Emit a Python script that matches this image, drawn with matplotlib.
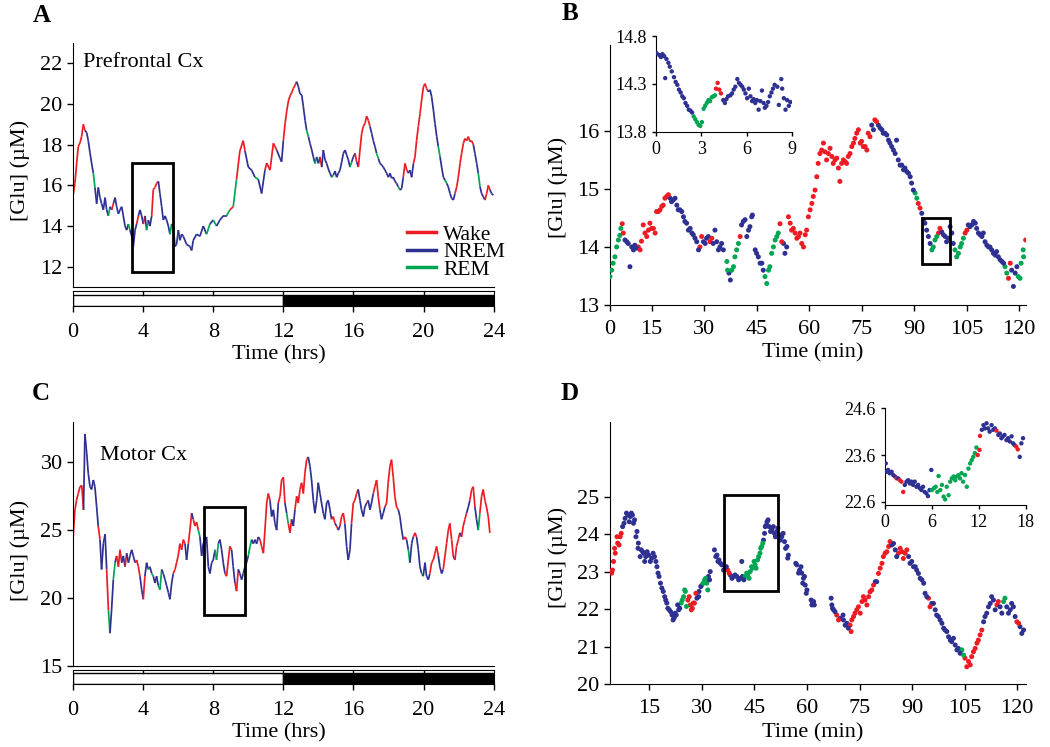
import matplotlib
matplotlib.use('Agg')
import matplotlib.pyplot as plt
from matplotlib.collections import LineCollection
from matplotlib.lines import Line2D
from matplotlib.patches import Rectangle

plt.rcParams['font.family'] = ['Liberation Serif', 'DejaVu Serif']

# ---------------- data ----------------
# sleep state epochs: start time + state (W = wake, N = NREM, R = REM)
a_t = [0.02, 0.11, 0.21, 0.3, 0.4, 0.49, 0.59, 0.68, 0.78, 0.87, 0.97, 1.06, 1.16, 1.25, 1.35, 1.44,
       1.54, 1.63, 1.73, 1.83, 1.92, 2.02, 2.11, 2.21, 2.3, 2.4, 2.49, 2.59, 2.68, 2.78, 2.87, 2.97,
       3.06, 3.16, 3.25, 3.35, 3.44, 3.54, 3.63, 3.73, 3.82, 3.92, 4.01, 4.11, 4.2, 4.3, 4.39, 4.49,
       4.58, 4.68, 4.77, 4.87, 4.96, 5.06, 5.15, 5.25, 5.34, 5.44, 5.53, 5.63, 5.72, 5.82, 5.91, 6.01,
       6.1, 6.2, 6.29, 6.48, 6.67, 6.77, 6.86, 7.05, 7.24, 7.43, 7.62, 7.81, 8.0, 8.19, 8.38, 8.57,
       8.76, 8.95, 9.14, 9.33, 9.52, 9.71, 9.81, 10.0, 10.19, 10.38, 10.57, 10.76, 10.95, 11.05, 11.24,
       11.43, 11.62, 11.81, 11.9, 12.0, 12.1, 12.2, 12.3, 12.4, 12.5, 12.57, 12.67, 12.76, 12.86, 12.95,
       13.05, 13.14, 13.24, 13.33, 13.43, 13.52, 13.62, 13.71, 13.81, 13.9, 14.0, 14.09, 14.19, 14.28,
       14.38, 14.47, 14.57, 14.66, 14.76, 14.85, 14.95, 15.04, 15.14, 15.23, 15.33, 15.42, 15.52, 15.61,
       15.71, 15.8, 15.9, 15.99, 16.09, 16.18, 16.28, 16.37, 16.47, 16.56, 16.66, 16.75, 16.85, 16.94,
       17.04, 17.13, 17.23, 17.32, 17.42, 17.51, 17.61, 17.7, 17.8, 17.89, 17.99, 18.08, 18.18, 18.27,
       18.37, 18.46, 18.56, 18.66, 18.75, 18.84, 18.94, 19.04, 19.13, 19.22, 19.32, 19.42, 19.51, 19.6,
       19.7, 19.8, 19.89, 19.99, 20.08, 20.17, 20.27, 20.37, 20.46, 20.56, 20.65, 20.75, 20.84, 20.94,
       21.03, 21.13, 21.22, 21.32, 21.41, 21.51, 21.6, 21.7, 21.79, 21.89, 21.98, 22.08, 22.17, 22.27,
       22.36, 22.46, 22.55, 22.65, 22.74, 22.84, 22.93, 23.03, 23.12, 23.22, 23.31, 23.41, 23.5, 23.6,
       23.69, 23.79, 23.88, 23.98]
a_glu = [15.6, 16.1, 17.1, 17.9, 18.1, 18.4, 19.0, 18.7, 18.6, 18.2, 17.6, 17.1, 16.6, 15.9, 15.1, 15.9,
         15.4, 15.1, 14.8, 15.4, 14.8, 14.5, 14.95, 14.8, 15.1, 15.4, 14.95, 14.6, 14.8, 14.95, 14.5, 14.0,
         13.8, 14.1, 13.8, 13.5, 13.0, 13.8, 14.1, 14.5, 14.8, 14.5, 14.1, 14.5, 13.8, 14.3, 14.0, 14.5,
         15.8, 15.9, 16.1, 16.2, 15.6, 14.95, 14.3, 14.5, 14.3, 14.0, 13.6, 14.1, 14.0, 13.0, 13.1, 13.8,
         13.3, 13.6, 13.5, 13.1, 13.0, 12.8, 13.3, 13.6, 13.5, 14.0, 13.6, 14.1, 14.3, 14.0, 14.3, 14.5,
         14.5, 14.8, 14.95, 16.3, 17.7, 18.2, 17.7, 16.9, 16.75, 16.4, 16.3, 15.6, 16.75, 17.1, 16.75,
         18.07, 17.74, 17.33, 17.16, 18.2, 19.05, 19.7, 20.2, 20.44, 20.6, 20.77, 20.93, 21.1, 20.85, 20.5,
         20.44, 19.87, 19.2, 18.7, 18.4, 18.07, 17.74, 17.4, 17.08, 17.4, 17.08, 17.4, 16.9, 17.74,
         17.25, 17.08, 16.8, 16.6, 16.4, 16.5, 16.7, 16.4, 16.6, 16.75, 17.16, 17.57, 17.74, 17.5,
         17.25, 16.9, 17.16, 17.4, 17.57, 17.16, 16.9, 17.74, 18.56, 18.9, 19.05, 19.4, 19.2, 18.9,
         18.56, 18.2, 17.9, 17.57, 17.33, 17.08, 17.0, 16.9, 16.75, 16.6, 16.4, 16.6, 16.35, 16.4,
         16.2, 16.1, 15.93, 15.77, 15.85, 16.4, 17.08, 16.75, 16.6, 16.75, 16.4, 17.08, 17.4, 18.2,
         18.9, 19.54, 20.2, 20.85, 21.0, 20.77, 20.6, 20.7, 20.36, 19.7, 19.05, 18.4, 17.9, 17.4,
         16.9, 16.4, 16.26, 16.1, 15.93, 15.6, 15.36, 15.28, 15.6, 15.93, 16.4, 17.08, 17.57, 18.07,
         18.3, 18.2, 18.4, 18.15, 18.2, 18.0, 17.57, 17.08, 16.6, 15.93, 15.6, 15.44, 15.28, 15.6,
         16.0, 15.77, 15.6, 15.52]
a_ep_t = [0, 0.68, 1.16, 1.25, 2.02, 2.11, 2.21, 2.3, 3.16, 3.25, 3.63, 3.73, 4.01, 4.11, 4.2, 4.3,
          4.49, 4.87, 5.53, 5.63, 7.62, 7.81, 8.0, 8.19, 8.76, 8.95, 9.14, 9.33, 9.81, 10.38, 10.57,
          10.95, 11.62, 12.0, 12.76, 13.33, 13.43, 13.81, 13.9, 14.09, 14.19, 14.76, 14.85, 15.8, 15.9,
          16.09, 16.18, 16.28, 16.94, 17.32, 17.42, 18.56, 18.66, 18.84, 19.13, 19.42, 20.27, 20.84,
          20.94, 21.22, 21.32, 21.79, 22.84, 23.12, 23.22, 23.5, 23.79]
a_ep_s = "WNRNRNWNRNWNWNRNWNRNRNRNRWRWNRNWNWNRNRNWNRNRNWNWNRNRNWNWNRNRNWNRNWN"

c_t = [0.0, 0.11, 0.2, 0.3, 0.4, 0.5, 0.6, 0.68, 0.78, 0.87, 0.97, 1.06, 1.16, 1.25, 1.35, 1.44,
       1.54, 1.63, 1.73, 1.83, 1.92, 2.02, 2.11, 2.2, 2.3, 2.4, 2.49, 2.59, 2.68, 2.78, 2.87, 2.97,
       3.06, 3.16, 3.25, 3.35, 3.44, 3.54, 3.63, 3.73, 3.82, 3.92, 4.01, 4.1, 4.2, 4.3, 4.39, 4.49,
       4.58, 4.68, 4.77, 4.87, 4.96, 5.06, 5.15, 5.25, 5.34, 5.44, 5.53, 5.63, 5.72, 5.82, 5.91, 6.0,
       6.1, 6.2, 6.29, 6.39, 6.48, 6.58, 6.67, 6.77, 6.86, 6.96, 7.05, 7.15, 7.24, 7.34, 7.43, 7.53,
       7.62, 7.72, 7.81, 7.91, 8.0, 8.1, 8.19, 8.29, 8.38, 8.48, 8.57, 8.67, 8.76, 8.86, 8.95, 9.05,
       9.14, 9.24, 9.33, 9.43, 9.52, 9.62, 9.71, 9.81, 9.9, 10.0, 10.1, 10.19, 10.29, 10.38, 10.48,
       10.57, 10.67, 10.76, 10.86, 10.95, 11.05, 11.14, 11.24, 11.33, 11.43, 11.52, 11.62, 11.71,
       11.81, 11.9, 12.0, 12.09, 12.19, 12.28, 12.38, 12.47, 12.57, 12.66, 12.76, 12.85, 12.95, 13.04,
       13.14, 13.23, 13.33, 13.42, 13.52, 13.61, 13.71, 13.8, 13.9, 13.99, 14.09, 14.18, 14.28, 14.37,
       14.47, 14.56, 14.66, 14.75, 14.85, 14.94, 15.04, 15.13, 15.23, 15.32, 15.42, 15.51, 15.61, 15.7,
       15.8, 15.89, 15.99, 16.08, 16.18, 16.27, 16.37, 16.46, 16.56, 16.65, 16.75, 16.84, 16.94, 17.03,
       17.13, 17.22, 17.32, 17.41, 17.51, 17.6, 17.7, 17.79, 17.89, 17.98, 18.08, 18.17, 18.27, 18.36,
       18.46, 18.56, 18.65, 18.75, 18.84, 18.94, 19.03, 19.13, 19.22, 19.32, 19.41, 19.51, 19.6, 19.7,
       19.79, 19.89, 19.98, 20.08, 20.17, 20.27, 20.36, 20.46, 20.55, 20.65, 20.74, 20.84, 20.93, 21.03,
       21.12, 21.22, 21.31, 21.41, 21.5, 21.6, 21.69, 21.79, 21.88, 21.98, 22.07, 22.17, 22.26, 22.36,
       22.45, 22.55, 22.64, 22.74, 22.83, 22.93, 23.02, 23.12, 23.21, 23.31, 23.4, 23.5, 23.59, 23.69,
       23.78]
c_glu = [24.3, 26.5, 27.2, 27.7, 28.2, 28.3, 26.5, 32.1, 30.7, 29.2, 28.2, 28.0, 28.7, 28.2, 26.7, 25.3,
         24.3, 22.1, 24.0, 24.7, 22.1, 19.1, 17.4, 19.1, 21.35, 22.6, 23.1, 22.3, 23.55, 22.6, 23.1, 22.3,
         23.3, 22.6, 23.1, 23.55, 23.1, 22.6, 22.8, 22.3, 21.6, 20.6, 19.9, 21.6, 22.6, 22.1, 22.3, 21.8,
         21.6, 21.1, 21.6, 20.9, 20.6, 22.1, 21.8, 21.35, 20.9, 20.4, 19.9, 21.1, 21.8, 22.1, 22.6, 23.1,
         24.0, 23.55, 24.3, 24.0, 22.8, 24.0, 25.0, 26.25, 25.8, 25.3, 25.6, 25.0, 24.5, 23.1, 24.0, 24.3,
         24.5, 22.3, 21.8, 22.6, 22.8, 23.55, 22.8, 24.0, 24.3, 23.55, 22.6, 21.8, 21.6, 22.8, 23.8, 23.55,
         22.3, 21.1, 20.5, 22.1, 21.8, 21.35, 21.8, 22.3, 22.6, 23.1, 23.8, 24.3, 24.0, 24.3, 24.0,
         24.5, 24.3, 23.8, 23.3, 25.0, 27.0, 27.7, 27.2, 26.0, 26.5, 25.5, 25.0, 27.0,
         27.5, 28.7, 28.9, 27.0, 26.25, 25.5, 24.8, 25.8, 25.3, 26.5, 27.5, 27.0, 28.0, 28.5,
         27.7, 29.2, 30.2, 30.4, 29.7, 28.7, 27.2, 26.25, 27.2, 28.5, 27.7, 27.0, 26.25, 25.8,
         27.0, 27.2, 26.5, 25.8, 26.0, 25.5, 25.3, 25.0, 25.3, 26.0, 26.25, 25.5, 23.8, 22.8,
         23.55, 25.5, 27.0, 27.2, 27.7, 28.0, 27.2, 26.5, 26.0, 26.7, 27.0, 27.2, 26.5, 27.0,
         27.7, 28.2, 28.7, 27.5, 26.5, 25.8, 26.25, 26.7, 27.0, 28.5, 29.7, 30.2, 28.9, 27.5,
         26.7, 26.5, 26.0, 25.0, 24.3, 24.5, 24.3, 23.55, 22.6, 24.0, 24.5, 24.8, 24.5, 23.55,
         22.3, 21.8, 21.6, 22.6, 21.6, 21.35, 21.8, 22.6, 22.8, 23.3, 23.8, 23.1, 22.3, 21.8,
         22.1, 23.1, 24.0, 25.0, 25.5, 24.3, 23.1, 22.8, 23.8, 24.3, 24.8, 24.5, 25.3, 25.8,
         26.25, 26.7, 27.2, 28.0, 28.2, 26.7, 25.8, 25.0, 26.25, 27.5, 28.0, 27.2, 26.7, 26.0,
         24.8]
c_ep_t = [0, 0.6, 1.44, 1.54, 1.92, 2.02, 2.11, 2.3, 2.4, 2.49, 2.78, 2.97, 3.06, 3.54, 3.82, 4.01,
          4.1, 4.3, 4.39, 4.49, 4.58, 4.87, 5.06, 5.72, 6.39, 6.58, 6.77, 6.86, 7.15, 7.24, 8.1, 8.29,
          8.67, 9.05, 9.24, 9.43, 10.0, 10.19, 10.67, 11.24, 11.71, 12.09, 12.19, 12.28, 12.47, 12.66,
          13.42, 14.75, 14.94, 15.04, 15.13, 15.23, 15.51, 15.89, 16.27, 16.75, 16.84, 17.13, 17.51,
          17.79, 18.56, 18.84, 19.03, 19.13, 19.22, 19.41, 19.6, 19.89, 19.98, 20.36, 20.84, 21.12,
          21.69, 21.79, 22.07, 22.17, 22.45, 22.64, 22.93, 23.12, 23.21]
c_ep_s = "WNWNWRNRNWNWNWNWNRNRNRNWNWNWRNRNWNWNRNWNWNRWNWNWNWNWNWNWNWNWNWNRNWNRNWNWNWNWNWNRW"

# panel B: first pass of readings (cloud centre), second pass (other dots of the cloud)
b_t = [3.1, 4.0, 5.0, 5.9, 6.6, 7.4, 8.3, 9.3, 10.2, 11.2, 12.1, 13.1, 14.1, 15.0, 16.0, 16.4, 17.4,
       18.3, 19.3, 20.3, 21.2, 22.2, 23.1, 24.1, 25.0, 26.0, 26.9, 27.9, 28.8, 29.8, 30.7, 31.7, 32.6,
       33.6, 34.5, 35.5, 36.5, 37.1, 37.9, 38.8, 39.8, 40.3, 40.7, 41.7, 42.7, 43.6, 44.6, 45.5, 46.5,
       47.4, 48.4, 49.3, 50.3, 51.2, 51.7, 52.7, 53.6, 54.1, 55.0, 56.0, 57.0, 57.9, 58.9, 59.8, 60.8,
       61.7, 62.6, 63.6, 64.5, 65.5, 66.5, 67.4, 68.4, 69.3, 70.3, 71.2, 72.2, 73.1, 74.1, 75.0, 76.0,
       76.9, 77.9, 78.8, 79.8, 80.8, 81.7, 82.7, 83.6, 84.6, 85.5, 86.5, 87.4, 88.4, 89.3, 90.3, 91.2,
       92.2, 93.1, 94.1, 95.1, 96.0, 97.0, 97.9, 98.9, 99.8, 100.8, 101.7, 102.7, 103.6, 104.6, 105.5,
       106.5, 107.5, 108.4, 109.4, 110.3, 111.3, 112.2, 113.2, 114.1, 115.1, 116.0, 117.0, 117.9, 118.9,
       119.8, 120.6, 121.2, 121.9]
b_glu = [13.49, 13.72, 14.0, 14.2, 14.4, 14.12, 14.06, 14.0, 14.03, 14.0, 14.1, 14.24, 14.29, 14.32,
         14.24, 14.61, 14.64, 14.72, 14.87, 14.84, 14.81, 14.72, 14.64, 14.52, 14.41, 14.32, 14.21,
         14.09, 14.0, 14.09, 14.15, 14.09, 14.06, 14.09, 14.0, 13.95, 13.75, 13.55, 13.6, 13.83, 14.06,
         14.18, 14.38, 14.47, 14.29, 14.52, 13.95, 13.83, 13.72, 13.49, 13.6, 13.89, 14.12, 14.24, 14.4,
         14.06, 14.0, 14.52, 14.29, 14.24, 14.18, 14.06, 14.21, 14.52, 14.75, 14.98, 15.44, 15.67, 15.64,
         15.61, 15.56, 15.5, 15.36, 15.44, 15.47, 15.56, 15.73, 15.87, 16.02, 15.82, 15.73, 15.96, 16.1,
         16.19, 16.1, 16.02, 15.96, 15.84, 15.73, 15.61, 15.5, 15.41, 15.36, 15.27, 15.1, 14.93, 14.75,
         14.58, 14.41, 14.18, 13.95, 14.12, 14.24, 14.26, 14.18, 14.15, 14.24, 13.95, 13.89, 14.06, 14.24,
         14.38, 14.38, 14.41, 14.24, 14.18, 14.09, 14.0, 13.95, 13.86, 13.83, 13.75, 13.66, 13.46, 13.6,
         13.55, 13.49, 13.72, 13.95, 14.12]
b2_t = [3.57, 4.5, 5.5, 6.2, 6.9, 7.9, 8.8, 9.8, 10.7, 11.7, 12.6, 13.6, 14.5, 15.5, 16.9, 17.9, 18.8,
        19.8, 20.7, 21.7, 22.6, 23.6, 24.5, 25.5, 26.5, 27.4, 28.4, 29.3, 30.3, 31.2, 32.2, 33.1, 34.1,
        35.0, 36.7, 37.5, 38.4, 39.3, 41.2, 42.2, 43.1, 43.8, 45.0, 46.0, 46.9, 47.9, 48.8, 49.8, 50.8,
        52.2, 53.1, 54.6, 55.5, 56.5, 57.4, 58.4, 59.3, 60.3, 61.2, 62.2, 63.1, 64.1, 65.0, 66.0, 66.9,
        67.9, 68.8, 69.8, 70.7, 71.7, 72.7, 73.6, 74.6, 75.5, 76.5, 77.4, 78.4, 79.3, 80.3, 81.2, 82.2,
        83.1, 84.1, 85.0, 86.0, 87.0, 87.9, 88.9, 89.8, 90.8, 91.7, 92.7, 93.6, 94.6, 95.5, 96.5, 97.4,
        98.4, 99.3, 100.3, 101.2, 102.2, 103.2, 104.1, 105.1, 106.0, 107.0, 107.9, 108.9, 109.8, 110.8,
        111.7, 112.7, 113.6, 114.6, 115.6, 116.5, 117.5, 118.4, 119.4, 120.3, 121.3]
b2_glu = [13.6, 13.83, 14.12, 14.32, 14.24, 14.09, 13.66, 13.95, 13.98, 13.95, 14.38, 14.18, 14.41,
          14.32, 14.61, 14.7, 14.84, 14.9, 14.78, 14.84, 14.64, 14.61, 14.44, 14.29, 14.24, 14.15, 13.95,
          14.18, 14.06, 14.18, 14.15, 14.29, 13.95, 14.06, 13.6, 13.43, 13.66, 13.95, 14.44, 14.18,
          14.35, 14.55, 13.89, 13.72, 13.6, 13.37, 13.66, 14.0, 14.18, 14.09, 13.89, 14.41, 14.32,
          14.15, 14.24, 14.0, 14.29, 14.64, 14.87, 15.21, 15.61, 15.79, 15.5, 15.7, 15.44, 15.53, 15.13,
          15.5, 15.44, 15.61, 15.79, 15.96, 15.79, 15.73, 15.67, 15.9, 16.02, 16.16, 16.05, 15.96, 15.93,
          15.79, 15.67, 15.84, 15.41, 15.33, 15.3, 15.21, 14.98, 14.84, 14.67, 14.47, 14.29, 14.06, 14.0,
          14.18, 14.32, 14.21, 14.09, 14.35, 14.06, 13.83, 14.0, 14.15, 14.29, 14.35, 14.44, 14.32, 14.21,
          14.24, 14.03, 14.0, 13.89, 13.92, 13.78, 13.72, 13.55, 13.72, 13.32, 13.66, 13.46, 13.83]
b_ep_t = [0, 6.6, 7.4, 11.2, 20.3, 28.8, 29.8, 31.7, 32.6, 36.5, 37.1, 37.9, 40.3, 40.7, 47.4, 51.7,
          52.7, 54.1, 77.9, 78.8, 79.8, 90.3, 91.2, 92.2, 95.1, 97.0, 97.9, 101.7, 104.6, 105.5, 116.0,
          117.0, 117.9, 119.8, 121.9]
b_ep_s = "RWNWNWNWNRNRWNRWNWNWNRWNRWNRWNRWNRW"

b_in_t = [0.04, 0.22, 0.33, 0.43, 0.54, 0.61, 0.69, 0.82, 0.91, 1.04, 1.19, 1.3, 1.41, 1.52, 1.63, 1.74,
          1.84, 1.95, 2.06, 2.17, 2.28, 2.39, 2.49, 2.6, 2.71, 2.82, 2.93, 3.04, 3.15, 3.25, 3.36, 3.47,
          3.58, 3.69, 3.8, 3.9, 3.97, 4.08, 4.19, 4.3, 4.45, 4.56, 4.66, 4.77, 4.92, 5.03, 5.14, 5.25,
          5.38, 5.49, 5.6, 5.71, 5.81, 5.92, 6.03, 6.14, 6.25, 6.36, 6.46, 6.57, 6.68, 6.79, 6.9, 7.01,
          7.12, 7.2, 7.31, 7.42, 7.53, 7.64, 7.74, 7.85, 8.03, 8.13, 8.29, 8.35, 8.46, 8.57, 8.68, 8.79,
          8.89]
b_in_glu = [14.62, 14.6, 14.58, 14.61, 14.59, 14.36, 14.56, 14.52, 14.48, 14.43, 14.37, 14.32, 14.29,
            14.24, 14.21, 14.17, 14.15, 14.1, 14.07, 14.03, 14.02, 14.0, 13.96, 13.93, 13.9, 13.87,
            13.86, 13.9, 14.04, 14.07, 14.1, 14.13, 14.12, 14.16, 14.17, 14.18, 14.25, 14.31, 14.24,
            14.2, 14.13, 14.1, 14.14, 14.17, 14.18, 14.2, 14.24, 14.27, 14.35, 14.31, 14.29, 14.27,
            14.24, 14.2, 14.15, 14.25, 14.17, 14.12, 14.14, 14.1, 14.13, 14.03, 14.12, 14.23, 14.1,
            14.05, 14.07, 14.11, 14.17, 14.21, 14.25, 14.29, 14.27, 14.08, 14.35, 14.25, 14.15, 14.03,
            14.13, 14.07, 14.11]
b_in_ep_t = [0, 2.49, 3.97, 4.45]
b_in_ep_s = "NRWN"

# panel D: same two reading passes
d_t = [4.3, 4.8, 5.3, 6.0, 6.7, 7.4, 8.1, 8.9, 9.6, 10.2, 10.8, 11.5, 11.9, 12.7, 13.4, 14.0, 14.8,
       15.7, 16.5, 17.2, 17.8, 18.6, 19.4, 20.0, 20.7, 21.5, 22.1, 22.7, 23.4, 24.1, 24.8, 25.3, 26.0,
       26.7, 27.3, 27.9, 28.6, 29.2, 30.0, 30.8, 31.4, 31.9, 32.4, 33.6, 34.3, 34.9, 35.7, 36.7, 37.4,
       38.1, 39.1, 40.0, 41.0, 41.6, 42.4, 43.1, 43.8, 44.5, 45.2, 45.9, 46.6, 47.1, 47.6, 48.1, 48.6,
       49.2, 50.0, 50.7, 51.4, 52.1, 52.8, 53.6, 54.3, 54.7, 57.1, 57.9, 58.5, 59.0, 59.5, 60.0, 61.2,
       61.6, 62.1, 67.1, 67.6, 68.5, 69.5, 70.4, 71.4, 72.3, 72.8, 73.7, 74.7, 75.7, 76.6, 77.6, 78.5,
       79.5, 80.4, 81.4, 82.3, 83.3, 84.2, 85.2, 86.1, 87.1, 88.0, 89.0, 89.9, 90.9, 91.8, 92.8, 93.7,
       94.7, 95.6, 96.6, 97.5, 98.5, 99.4, 100.4, 101.3, 102.3, 103.2, 104.2, 105.1, 106.1, 107.0,
       108.0, 108.9, 109.9, 110.4, 111.3, 112.3, 113.2, 114.2, 115.1, 116.1, 117.0, 118.0, 118.9,
       119.9, 120.8, 121.8]
d_glu = [22.96, 23.27, 23.49, 23.76, 23.93, 24.2, 24.42, 24.51, 24.47, 24.51, 24.38, 24.07, 23.76,
         23.58, 23.49, 23.4, 23.44, 23.36, 23.4, 23.13, 22.87, 22.56, 22.33, 22.16, 21.98, 21.84, 21.76,
         21.84, 21.98, 22.16, 22.33, 22.47, 22.24, 22.11, 22.02, 22.16, 22.29, 22.47, 22.64, 22.78,
         22.69, 22.87, 23.0, 23.58, 23.44, 23.31, 23.18, 23.09, 23.04, 22.91, 22.87, 22.87, 22.82,
         22.87, 22.87, 22.91, 23.0, 23.09, 23.18, 23.31, 23.49, 23.67, 23.84, 24.2, 24.33, 24.2, 24.11,
         24.02, 24.07, 23.98, 23.93, 23.8, 23.67, 23.44, 23.18, 23.04, 22.96, 22.82, 22.64, 22.51,
         22.24, 22.16, 22.11, 22.11, 21.98, 21.84, 21.75, 21.71, 21.62, 21.57, 21.71, 21.89, 22.06,
         22.2, 22.24, 22.33, 22.51, 22.73, 22.95, 23.22, 23.49, 23.67, 23.71, 23.58, 23.49, 23.53,
         23.49, 23.4, 23.27, 23.13, 22.95, 22.78, 22.42, 22.29, 22.15, 21.98, 21.8, 21.62, 21.44,
         21.26, 21.13, 21.04, 20.95, 20.91, 20.69, 20.6, 20.73, 20.95, 21.17, 21.44, 21.66, 21.89,
         22.15, 22.24, 22.11, 22.06, 22.2, 22.06, 21.98, 22.06, 21.66, 21.53, 21.44]
d2_t = [4.5, 5.1, 5.8, 6.4, 7.0, 7.8, 8.5, 9.3, 9.9, 10.5, 11.2, 11.8, 12.4, 13.1, 13.7, 14.4, 15.3,
        16.1, 16.9, 17.5, 18.2, 19.0, 19.7, 20.3, 21.1, 21.8, 22.4, 23.1, 23.7, 24.4, 25.1, 25.6, 26.4,
        27.0, 27.6, 28.3, 29.1, 29.7, 30.4, 31.1, 31.7, 32.2, 34.0, 34.6, 35.3, 36.2, 37.0, 37.8, 38.6,
        39.5, 40.5, 41.4, 42.0, 42.8, 43.5, 44.2, 44.9, 45.5, 46.2, 46.8, 47.4, 47.9, 48.4, 48.9, 49.6,
        50.4, 51.0, 51.7, 52.4, 53.2, 53.9, 54.5, 56.8, 57.6, 58.3, 58.8, 59.3, 59.8, 61.4, 61.9,
        66.9, 67.3, 68.0, 69.0, 70.3, 70.9, 71.8, 72.6, 73.3, 74.2, 75.2, 76.1, 77.1, 78.0, 79.0, 79.9,
        80.9, 81.8, 82.8, 83.7, 84.7, 85.6, 86.6, 87.5, 88.5, 89.4, 90.4, 91.3, 92.3, 93.3, 94.2, 95.1,
        96.1, 97.0, 98.0, 99.0, 99.9, 100.9, 101.8, 102.8, 103.7, 104.7, 105.6, 106.6, 107.5, 108.5,
        109.4, 110.8, 111.8, 112.7, 113.7, 114.6, 115.6, 116.5, 117.5, 118.4, 119.4, 120.4, 121.3]
d2_glu = [23.04, 23.62, 23.93, 23.71, 24.02, 24.29, 24.56, 24.33, 24.56, 24.29, 23.93, 23.62, 23.4,
          23.53, 23.27, 23.53, 23.27, 23.49, 23.27, 22.96, 22.69, 22.47, 22.24, 22.02, 21.93, 21.71,
          21.89, 22.11, 22.02, 22.24, 22.51, 22.07, 22.33, 21.98, 22.16, 22.42, 22.33, 22.6, 22.69,
          22.82, 22.51, 22.78, 23.4, 23.27, 23.22, 23.04, 23.13, 22.96, 22.82, 22.91, 22.78, 23.27,
          22.78, 22.96, 22.82, 23.13, 23.27, 23.09, 23.4, 23.62, 23.76, 24.02, 24.24, 24.38, 24.07,
          24.2, 23.93, 24.16, 23.84, 24.02, 23.62, 23.36, 23.22, 22.96, 23.13, 22.69, 22.87, 22.42,
          22.11, 22.2,
          22.29, 22.02, 21.93, 21.71, 21.84, 21.57, 21.49, 21.4, 21.8, 21.98, 21.89, 22.33, 22.11,
          22.46, 22.64, 22.73, 23.09, 23.4, 23.53, 23.8, 23.75, 23.4, 23.62, 23.35, 23.58, 23.22,
          23.13, 23.04, 22.82, 22.69, 22.33, 22.06, 22.15, 21.84, 21.71, 21.49, 21.4, 21.17, 21.22,
          20.91, 20.82, 20.77, 20.46, 20.51, 20.86, 21.09, 21.31, 21.8, 22.06, 22.33, 21.98, 22.2,
          21.89, 22.29, 21.89, 22.15, 21.8, 21.62, 21.35]
d_ep_t = [0, 7.4, 24.1, 26.0, 28.6, 30.0, 31.9, 37.4, 38.1, 42.4, 47.6, 68.5, 69.5, 72.3, 79.5, 80.4,
          84.2, 86.1, 89.0, 94.7, 95.6, 104.2, 105.1, 110.4, 114.2, 115.1, 116.1, 117.0, 119.9, 120.8]
d_ep_s = "WNRWNRNWNRNWNWNWNWNWNRWNWNRNWN"

d_in_t = [0.1, 0.2, 0.4, 0.6, 0.85, 1.06, 1.27, 1.48, 1.69, 1.9, 2.1, 2.33, 2.54, 2.75, 2.97, 3.18, 3.39,
          3.6, 3.81, 4.03, 4.24, 4.45, 4.66, 4.87, 5.08, 5.3, 5.5, 5.7, 5.93, 6.0, 6.27, 6.48, 6.7, 6.86,
          7.08, 7.29, 7.5, 7.7, 7.9, 8.14, 8.35, 8.56, 8.77, 9.0, 9.2, 9.4, 9.6, 9.8, 10.0, 10.25, 10.47,
          10.68, 10.9, 11.1, 11.3, 11.5, 11.7, 11.86, 12.1, 12.16, 12.4, 12.6, 12.8, 13.0, 13.2, 13.4,
          13.64, 13.86, 14.07, 14.28, 14.5, 14.7, 14.9, 15.1, 15.3, 15.55, 15.76, 15.97, 16.2, 16.4,
          16.6, 16.8, 17.0, 17.25, 17.46, 17.67]
d_in_glu = [23.42, 23.24, 23.28, 23.21, 23.24, 23.17, 23.14, 23.1, 23.1, 23.06, 23.03, 22.81, 22.96,
            23.03, 23.06, 22.99, 23.03, 22.96, 23.03, 22.92, 22.96, 22.89, 22.85, 22.92, 22.81, 22.78,
            22.72, 22.85, 23.28, 22.85, 22.89, 22.92, 22.81, 23.15, 22.85, 22.96, 22.71, 22.65, 22.92,
            22.74, 23.03, 23.1, 23.14, 23.06, 23.14, 23.17, 23.1, 23.21, 23.03, 23.17, 22.92, 23.31,
            23.42, 23.49, 23.56, 23.64, 23.76, 23.6, 23.71, 24.01, 24.14, 24.24, 24.17, 24.28, 24.17,
            24.1, 24.24, 24.14, 24.17, 24.12, 24.03, 24.06, 23.96, 24.0, 24.03, 23.92, 23.96, 23.89,
            24.0, 23.85, 23.81, 23.78, 23.72, 23.56, 23.85, 23.96]
d_in_ep_t = [0, 1.48, 1.69, 1.9, 2.54, 6.0, 11.86, 12.4, 14.28, 14.5, 16.8, 17.25]
d_in_ep_s = "NWNWNRWNWNWN"

# light/dark bar under the 24 h traces
phase_start = [0, 12]
phase_len = [12, 12]
phase_col = ['white', 'black']

state_names = ['Wake', 'NREM', 'REM']
state_cols = {'W': '#ed1c24', 'N': '#2e3192', 'R': '#00a651'}

# ---------------- helpers (positions in pixels of the 1050x747 picture) ----------------
W, H = 1050, 747
fig = plt.figure(figsize=(10.5, 7.47), dpi=100)


def box(l, t, r, b):
    return [l / W, 1 - b / H, (r - l) / W, (b - t) / H]


def ftext(x, y, s, **kw):
    fig.text(x / W, 1 - y / H, s, **kw)


def states(t, ep_t, ep_s):
    out = []
    for x in t:
        k = 0
        for i, e in enumerate(ep_t):
            if e <= x + 1e-9:
                k = i
        out.append(ep_s[k])
    return out


def trace(ax, t, v, ep_t, ep_s):
    n = min(len(t), len(v))
    st = states(t[:n], ep_t, ep_s)
    segs = [[(t[i], v[i]), (t[i + 1], v[i + 1])] for i in range(n - 1)]
    cols = [state_cols[s] for s in st[:n - 1]]
    ax.add_collection(LineCollection(segs, colors=cols, linewidths=1.25))


def dots(ax, t, v, ep_t, ep_s, s=8):
    n = min(len(t), len(v))
    st = states(t[:n], ep_t, ep_s)
    ax.scatter(t[:n], v[:n], s=s, c=[state_cols[k] for k in st], linewidths=0, zorder=3)


def plain(ax, fs=16, pad=3.5):
    for sp in ['top', 'right']:
        ax.spines[sp].set_visible(False)
    ax.tick_params(direction='out', length=4, width=1, labelsize=fs, pad=pad)


def strip(rect, bar_top):
    s = fig.add_axes(rect)
    s.barh(bar_top / 2, phase_len, left=phase_start, height=bar_top, color=phase_col,
           edgecolor='black', linewidth=1)
    s.set_xlim(0, 24)
    s.set_ylim(0, 1)
    s.set_yticks([])
    s.set_xticks(range(0, 25, 4))
    s.tick_params(axis='x', direction='out', length=4, width=1, labelsize=16, pad=8)
    for x in range(4, 24, 4):
        s.plot([x, x], [bar_top, 1], color='black', lw=1)
    return s


# ---------------- panel A ----------------
axA = fig.add_axes(box(73, 43, 493.7, 286.7))
trace(axA, a_t, a_glu, a_ep_t, a_ep_s)
axA.set_xlim(0, 24)
axA.set_ylim(11.02, 23.0)
axA.set_yticks([12, 14, 16, 18, 20, 22])
axA.set_xticks([])
plain(axA)
axA.add_patch(Rectangle((3.38, 11.75), 2.34, 5.33, fill=False, lw=2, ec='black', zorder=4))
axA.text(0.024, 0.92, 'Prefrontal Cx', transform=axA.transAxes, fontsize=16, va='center')
handles = [Line2D([], [], color=state_cols[k], lw=2.5) for k in 'WNR']
axA.legend(handles, state_names, loc='lower right', bbox_to_anchor=(1.052, -0.015), frameon=False,
           fontsize=15.5, handlelength=1.35, handletextpad=0.3, labelspacing=-0.12, borderpad=0)
strip(box(73, 290.7, 493.7, 306), 0.72)

# ---------------- panel C ----------------
axC = fig.add_axes(box(73, 421.7, 493.7, 665.7))
trace(axC, c_t, c_glu, c_ep_t, c_ep_s)
axC.set_xlim(0, 24)
axC.set_ylim(15, 33)
axC.set_yticks([15, 20, 25, 30])
axC.set_xticks([])
plain(axC)
axC.add_patch(Rectangle((7.47, 18.77), 2.34, 7.97, fill=False, lw=2, ec='black', zorder=4))
axC.text(0.065, 0.86, 'Motor Cx', transform=axC.transAxes, fontsize=16, va='center')
strip(box(73, 670, 493.7, 684), 0.76)

# ---------------- panel B ----------------
axB = fig.add_axes(box(610, 45, 1026, 305))
dots(axB, b_t, b_glu, b_ep_t, b_ep_s, s=13)
dots(axB, b2_t, b2_glu, b_ep_t, b_ep_s, s=13)
axB.set_xlim(3.1, 122.0)
axB.set_ylim(13, 17.48)
axB.set_yticks([13, 14, 15, 16])
axB.set_xticks([3.1, 15, 30, 45, 60, 75, 90, 105, 120])
axB.set_xticklabels(['0', '15', '30', '45', '60', '75', '90', '105', '120'])
plain(axB, pad=7)
axB.tick_params(axis='y', pad=4)
axB.add_patch(Rectangle((92.2, 13.70), 8.1, 0.805, fill=False, lw=2, ec='black', zorder=4))

axBi = fig.add_axes(box(656, 36, 792, 131.7))
dots(axBi, b_in_t, b_in_glu, b_in_ep_t, b_in_ep_s, s=10)
axBi.set_xlim(0, 9)
axBi.set_ylim(13.8, 14.8)
axBi.set_xticks([0, 3, 6, 9])
axBi.set_yticks([13.8, 14.3, 14.8])
plain(axBi, fs=13)
axBi.tick_params(length=3)
axBi.patch.set_alpha(0)

# ---------------- panel D ----------------
axD = fig.add_axes(box(610, 421.7, 1026, 684))
dots(axD, d_t, d_glu, d_ep_t, d_ep_s, s=13)
dots(axD, d2_t, d2_glu, d_ep_t, d_ep_s, s=13)
axD.set_xlim(3.8, 122.5)
axD.set_ylim(20, 27.0)
axD.set_yticks([20, 21, 22, 23, 24, 25])
axD.set_xticks([15, 30, 45, 60, 75, 90, 105, 120])
plain(axD, pad=7)
axD.tick_params(axis='y', pad=4)
axD.add_patch(Rectangle((36.2, 22.49), 15.4, 2.56, fill=False, lw=2, ec='black', zorder=4))

axDi = fig.add_axes(box(885, 408.3, 1026, 505))
dots(axDi, d_in_t, d_in_glu, d_in_ep_t, d_in_ep_s, s=10)
axDi.set_xlim(0, 18.05)
axDi.set_ylim(22.53, 24.6)
axDi.set_xticks([0, 6, 12, 18])
axDi.set_yticks([22.6, 23.6, 24.6])
plain(axDi, fs=13)
axDi.tick_params(length=3)
axDi.patch.set_alpha(0)

# ---------------- labels ----------------
for x, y in [(20, 170), (558, 187), (20, 550), (558, 557)]:
    ftext(x, y, '[Glu] (µM)', rotation=90, ha='center', va='center', fontsize=16)
for x, y, s in [(279, 355, 'Time (hrs)'), (813, 353, 'Time (min)'),
                (279, 733, 'Time (hrs)'), (813, 733, 'Time (min)')]:
    ftext(x, y, s, ha='center', va='center', fontsize=16)
for x, y, s in [(42, 15, 'A'), (570, 14, 'B'), (41, 394, 'C'), (570, 394, 'D')]:
    ftext(x, y, s, ha='center', va='center', fontsize=18, fontweight='bold')

fig.savefig('out.png', dpi=100)
